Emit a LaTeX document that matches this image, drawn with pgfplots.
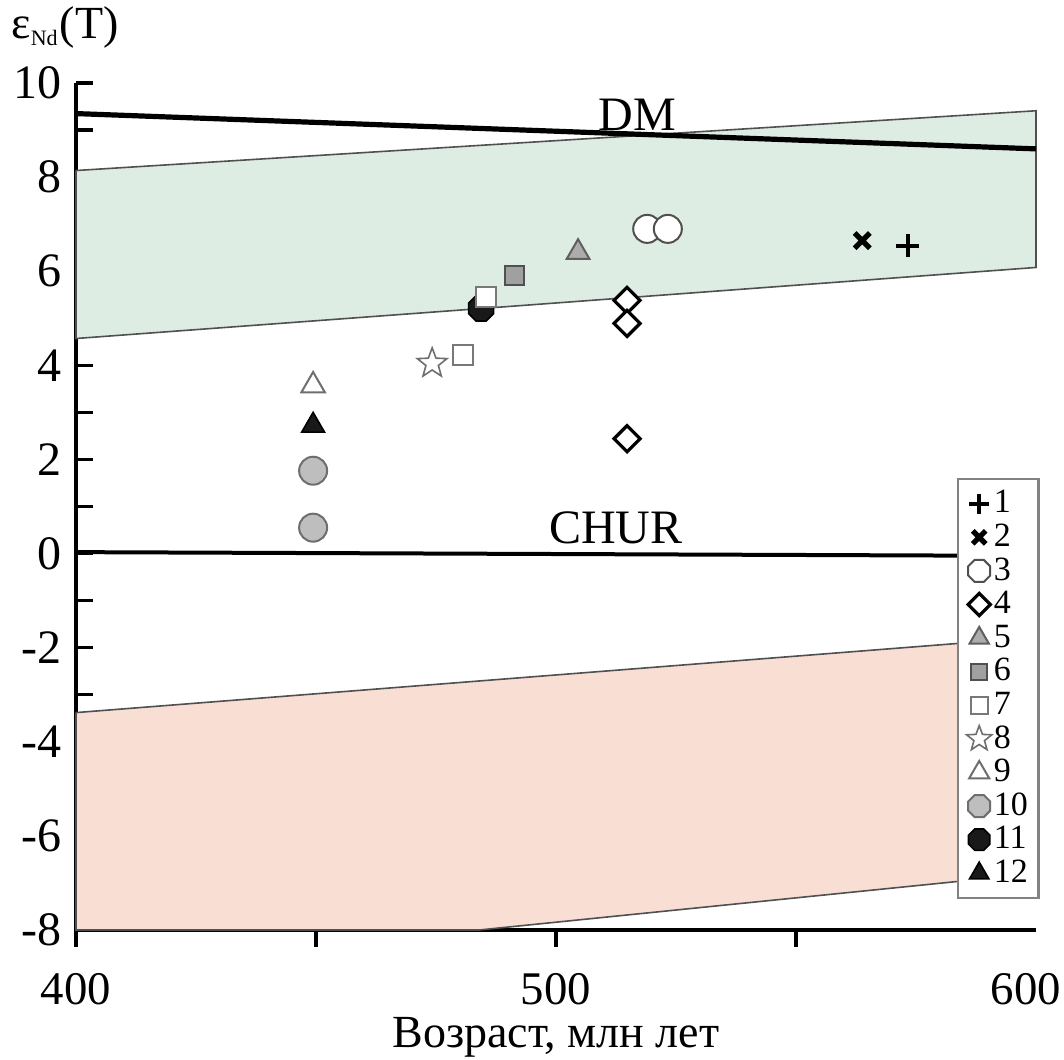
\documentclass[border=0pt]{standalone}
\usepackage{fontspec}
\setmainfont{Liberation Serif}
\usepackage{pgfplots}
\pgfplotsset{compat=1.18}
\usetikzlibrary{plotmarks}

% octagon mark (legend of 3, 10 and the black dot 11)
\pgfdeclareplotmark{oct}{%
  \pgfpathmoveto{\pgfpointpolar{22.5}{\pgfplotmarksize}}%
  \pgfpathlineto{\pgfpointpolar{67.5}{\pgfplotmarksize}}%
  \pgfpathlineto{\pgfpointpolar{112.5}{\pgfplotmarksize}}%
  \pgfpathlineto{\pgfpointpolar{157.5}{\pgfplotmarksize}}%
  \pgfpathlineto{\pgfpointpolar{202.5}{\pgfplotmarksize}}%
  \pgfpathlineto{\pgfpointpolar{247.5}{\pgfplotmarksize}}%
  \pgfpathlineto{\pgfpointpolar{292.5}{\pgfplotmarksize}}%
  \pgfpathlineto{\pgfpointpolar{337.5}{\pgfplotmarksize}}%
  \pgfpathclose
  \pgfusepathqfillstroke}
% outlined five-point star
\pgfdeclareplotmark{ostar}{%
  \pgfpathmoveto{\pgfpointpolar{90}{\pgfplotmarksize}}%
  \pgfpathlineto{\pgfpointpolar{126}{0.42\pgfplotmarksize}}%
  \pgfpathlineto{\pgfpointpolar{162}{\pgfplotmarksize}}%
  \pgfpathlineto{\pgfpointpolar{198}{0.42\pgfplotmarksize}}%
  \pgfpathlineto{\pgfpointpolar{234}{\pgfplotmarksize}}%
  \pgfpathlineto{\pgfpointpolar{270}{0.42\pgfplotmarksize}}%
  \pgfpathlineto{\pgfpointpolar{306}{\pgfplotmarksize}}%
  \pgfpathlineto{\pgfpointpolar{342}{0.42\pgfplotmarksize}}%
  \pgfpathlineto{\pgfpointpolar{18}{\pgfplotmarksize}}%
  \pgfpathlineto{\pgfpointpolar{54}{0.42\pgfplotmarksize}}%
  \pgfpathclose
  \pgfusepathqfillstroke}

\definecolor{bandgreen}{RGB}{222,237,228}
\definecolor{bandpink}{RGB}{249,222,212}
\definecolor{edge}{RGB}{80,80,80}

\pgfplotsset{
  legmark/.style={legend image code/.code={%
    \draw[##1,every mark/.append style={scale=0.85}] plot coordinates {(0.15cm,0cm)};}},
  legoct/.style={legend image code/.code={%
    \draw[##1,mark=oct,every mark/.append style={scale=0.85}] plot coordinates {(0.15cm,0cm)};}},
}

\begin{document}
\begin{tikzpicture}
\begin{axis}[
  scale only axis,
  width=240pt, height=211.75pt,
  xmin=400, xmax=600, ymin=-8, ymax=10,
  axis x line=bottom, axis y line=left,
  axis line style={-, line width=1pt},
  xtick={400,500}, minor xtick={450,550}, xtick align=outside,
  extra x ticks={600},
  extra x tick style={major tick style={draw=none}, xticklabel style={xshift=-2.5pt}},
  ytick={-8,-6,...,10}, minor ytick={-7,-5,...,9}, ytick align=inside,
  major tick length=4.25pt, minor tick length=4.25pt,
  every tick/.style={black, line width=0.8pt},
  every minor tick/.style={black, line width=0.8pt},
  yticklabel style={font=\fontsize{12}{14}\selectfont},
  xticklabel style={font=\fontsize{11.7}{14}\selectfont, inner sep=1pt, yshift=-5.3pt},
  /pgf/number format/assume math mode=true,
  /pgf/number format/1000 sep={},
  clip=false,
  legend style={at={(rel axis cs:1.004,0.534)}, anchor=north east,
    draw={rgb,255:red,130;green,130;blue,130}, line width=0.6pt,
    font=\fontsize{8.5}{9}\selectfont, inner xsep=2.2pt, inner ysep=2pt,
    row sep=0pt, nodes={inner sep=0.5pt, text height=6pt, text depth=1.4pt}},
  legend cell align=left,
]
% bands
\addplot[fill=bandgreen, draw=edge, line width=0.4pt, forget plot]
  coordinates {(400,8.14) (600,9.41) (600,6.08) (400,4.57) (400,8.14)};
\addplot[fill=bandpink, draw=edge, line width=0.4pt, forget plot]
  coordinates {(400,-3.38) (600,-1.78) (600,-6.8) (484,-8) (400,-8) (400,-3.38)};
% DM and CHUR
\addplot[black, line width=1.3pt, forget plot] coordinates {(400,9.35) (600,8.6)};
\addplot[black, line width=1pt, forget plot] coordinates {(400,0.03) (600,-0.05)};
\node[font=\fontsize{12}{14}\selectfont] at (axis cs:517,9.33) {DM};
\node[font=\fontsize{12}{14}\selectfont] at (axis cs:512.5,0.55) {CHUR};

% 1
\addplot[only marks, legmark, mark=+, mark size=2.9pt, mark options={black, line width=0.9pt}]
  coordinates {(573.3,6.54)};
\addlegendentry{1}
% 2
\addplot[only marks, legmark, mark=x, mark size=2.7pt, mark options={black, line width=1.3pt}]
  coordinates {(563.8,6.65)};
\addlegendentry{2}
% 3
\addplot[only marks, legoct, mark=*, mark size=3.5pt,
  mark options={draw=edge, fill=white, line width=0.5pt}]
  coordinates {(519,6.9) (523.3,6.9)};
\addlegendentry{3}
% 4
\addplot[only marks, legmark, mark=square*, mark size=2.3pt,
  mark options={rotate=45, draw=black, fill=white, line width=0.8pt}]
  coordinates {(514.8,5.38) (514.8,4.89) (514.8,2.44)};
\addlegendentry{4}
% 5
\addplot[only marks, legmark, mark=triangle*, mark size=3.3pt,
  mark options={draw={rgb,255:red,95;green,95;blue,95}, fill={rgb,255:red,172;green,172;blue,172}, line width=0.5pt}]
  coordinates {(504.6,6.40)};
\addlegendentry{5}
% 6
\addplot[only marks, legmark, mark=square*, mark size=2.4pt,
  mark options={draw={rgb,255:red,80;green,80;blue,80}, fill={rgb,255:red,160;green,160;blue,160}, line width=0.5pt}]
  coordinates {(491.3,5.91)};
\addlegendentry{6}
% 7
\addplot[only marks, legmark, mark=square*, mark size=2.5pt,
  mark options={draw={rgb,255:red,120;green,120;blue,120}, fill=white, line width=0.5pt}]
  coordinates {(480.6,4.23)};
\addlegendentry{7}
% 8
\addplot[only marks, legmark, mark=ostar, mark size=3.9pt,
  mark options={draw={rgb,255:red,110;green,110;blue,110}, fill=white, line width=0.4pt}]
  coordinates {(474.2,4.04)};
\addlegendentry{8}
% 9
\addplot[only marks, legmark, mark=triangle*, mark size=3.4pt,
  mark options={draw={rgb,255:red,110;green,110;blue,110}, fill=white, line width=0.5pt}]
  coordinates {(449.4,3.57)};
\addlegendentry{9}
% 10
\addplot[only marks, legoct, mark=*, mark size=3.5pt,
  mark options={draw={rgb,255:red,110;green,110;blue,110}, fill={rgb,255:red,190;green,190;blue,190}, line width=0.5pt}]
  coordinates {(449.4,1.76) (449.4,0.55)};
\addlegendentry{10}
% 11
\addplot[only marks, legmark, mark=oct, mark size=3.4pt,
  mark options={draw=black, fill={rgb,255:red,25;green,25;blue,25}, line width=0.4pt}]
  coordinates {(484.4,5.21)};
\addlegendentry{11}
% 7 (upper point, drawn over 11)
\addplot[only marks, forget plot, mark=square*, mark size=2.5pt,
  mark options={draw={rgb,255:red,120;green,120;blue,120}, fill=white, line width=0.5pt}]
  coordinates {(485.4,5.46)};
% 12
\addplot[only marks, legmark, mark=triangle*, mark size=3.3pt,
  mark options={draw=black, fill={rgb,255:red,25;green,25;blue,25}, line width=0.4pt}]
  coordinates {(449.4,2.72)};
\addlegendentry{12}

\node[font=\fontsize{11.5}{13}\selectfont] at ([xshift=-2.75pt,yshift=14pt]rel axis cs:0,1)
  {ε\textsubscript{\fontsize{5.5}{6}\selectfont Nd}(T)};
\node[font=\fontsize{11.5}{13}\selectfont, inner sep=0pt] at ([yshift=-26.8pt]rel axis cs:0.5,0)
  {Возраст, млн лет};
\end{axis}
\pgfresetboundingbox
\useasboundingbox ([xshift=-19pt,yshift=-32.3pt]current axis.south west)
  rectangle ([xshift=7pt,yshift=20.75pt]current axis.north east);
\end{tikzpicture}
\end{document}
